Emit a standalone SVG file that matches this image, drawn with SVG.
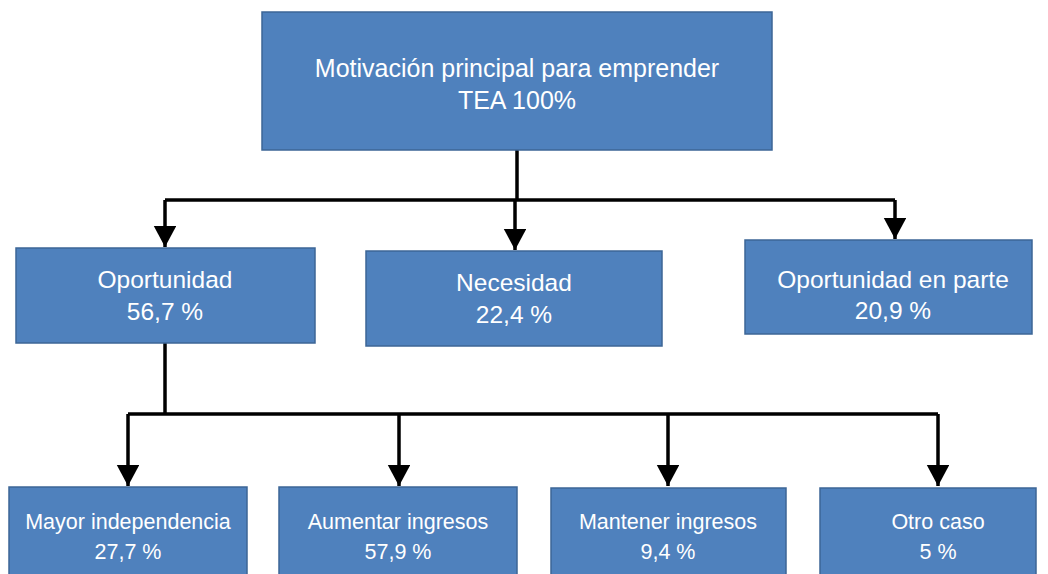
<svg xmlns="http://www.w3.org/2000/svg" width="1048" height="574" viewBox="0 0 1048 574">
<style>
.box{fill:#4F81BD;stroke:#3C6696;stroke-width:1.5}
.t{font-family:"Liberation Sans",Arial,sans-serif;fill:#FFFFFF;text-anchor:middle}
.t1{font-size:25px}
.t2{font-size:24.5px}
.t3{font-size:21.5px}
.c{fill:none;stroke:#000000;stroke-width:3.5}
</style>
<defs>
<marker id="arr" markerWidth="7" markerHeight="7" refX="6" refY="3.2" orient="auto" markerUnits="strokeWidth">
<path d="M0,0 L6,3.2 L0,6.4 Z" fill="#000000"/>
</marker>
</defs>
<rect width="1048" height="574" fill="#FFFFFF"/>
<g id="connectors">
<path class="c" d="M517,150 V200"/>
<path class="c" d="M165,200 H895"/>
<path class="c" d="M165,200 V247" marker-end="url(#arr)"/>
<path class="c" d="M515,200 V250" marker-end="url(#arr)"/>
<path class="c" d="M895,200 V239" marker-end="url(#arr)"/>
<path class="c" d="M165,343 V414"/>
<path class="c" d="M128,414 H938"/>
<path class="c" d="M128,414 V486" marker-end="url(#arr)"/>
<path class="c" d="M399,414 V486" marker-end="url(#arr)"/>
<path class="c" d="M668,414 V486" marker-end="url(#arr)"/>
<path class="c" d="M938,414 V486" marker-end="url(#arr)"/>
</g>
<g id="n_top">
<rect class="box" x="262" y="12" width="510" height="138"/>
<text class="t t1" x="517" y="77">Motivación principal para emprender</text>
<text class="t t1" x="517" y="109">TEA 100%</text>
</g>
<g id="n_oportunidad">
<rect class="box" x="16" y="248" width="299" height="95"/>
<text class="t t2" x="165" y="288">Oportunidad</text>
<text class="t t2" x="165" y="320">56,7 %</text>
</g>
<g id="n_necesidad">
<rect class="box" x="366" y="251" width="296" height="95"/>
<text class="t t2" x="514" y="291">Necesidad</text>
<text class="t t2" x="514" y="323">22,4 %</text>
</g>
<g id="n_enparte">
<rect class="box" x="745" y="240" width="287" height="94"/>
<text class="t t2" x="893" y="288">Oportunidad en parte</text>
<text class="t t2" x="893" y="319">20,9 %</text>
</g>
<g id="n_mayor">
<rect class="box" x="9" y="487" width="238" height="95"/>
<text class="t t3" x="128" y="529">Mayor independencia</text>
<text class="t t3" x="128" y="559">27,7 %</text>
</g>
<g id="n_aumentar">
<rect class="box" x="279" y="487" width="238" height="95"/>
<text class="t t3" x="398" y="529">Aumentar ingresos</text>
<text class="t t3" x="398" y="559">57,9 %</text>
</g>
<g id="n_mantener">
<rect class="box" x="551" y="488" width="235" height="95"/>
<text class="t t3" x="668" y="529">Mantener ingresos</text>
<text class="t t3" x="668" y="559">9,4 %</text>
</g>
<g id="n_otro">
<rect class="box" x="820" y="488" width="216" height="95"/>
<text class="t t3" x="938" y="529">Otro caso</text>
<text class="t t3" x="938" y="559">5 %</text>
</g>
</svg>
